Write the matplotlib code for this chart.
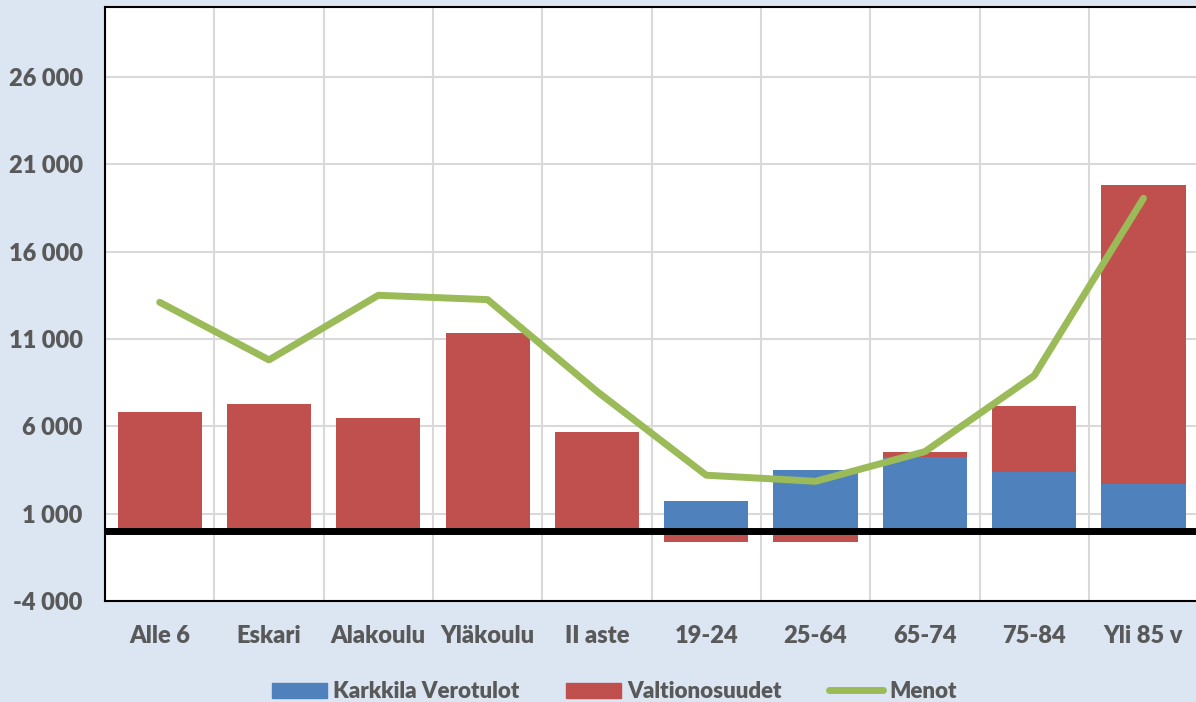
import numpy as np
import matplotlib.pyplot as plt
from matplotlib.patches import Patch
from matplotlib.lines import Line2D
from matplotlib.ticker import FuncFormatter, MultipleLocator

# euroa / asukas, ikäryhmittäin
categories = ['Alle 6', 'Eskari', 'Alakoulu', 'Yläkoulu', 'II aste',
              '19-24', '25-64', '65-74', '75-84', 'Yli 85 v']
verotulot = [0, 0, 0, 0, 0, 1700, 3500, 4250, 3400, 2700]
valtionosuudet = [6800, 7300, 6450, 11350, 5700, -600, -600, 300, 3750, 17100]
menot = [13100, 9800, 13500, 13250, 8000, 3200, 2850, 4550, 8900, 19050]

blue = '#4f81bd'
red = '#c0504d'
green = '#9bbb59'
bg = '#dce6f2'
txt = '#595959'

plt.rcParams['font.family'] = ['Lato', 'DejaVu Sans']
plt.rcParams['font.weight'] = 800

fig = plt.figure(figsize=(11.96, 7.02), dpi=100, facecolor=bg)
ax = fig.add_axes([0.0878, 0.1439, 0.914, 0.8461])
ax.set_facecolor('white')

x = np.arange(len(categories))
vero = np.array(verotulot)
vos = np.array(valtionosuudet)
width = 0.77

ax.bar(x, vero, width, color=blue, zorder=2)
ax.bar(x, vos, width, bottom=np.where(vos >= 0, vero, 0), color=red, zorder=2)
ax.axhline(0, color='black', lw=5, zorder=3)
ax.plot(x, menot, color=green, lw=5, solid_joinstyle='round',
        solid_capstyle='round', zorder=4)

ax.set_xlim(-0.5, 9.5)
ax.set_ylim(-4000, 30000)
ax.set_yticks(np.arange(-4000, 30000, 5000))
ax.yaxis.set_major_formatter(FuncFormatter(lambda v, p: f'{int(v):,}'.replace(',', ' ')))
ax.set_xticks(x)
ax.set_xticklabels(categories)
ax.xaxis.set_minor_locator(MultipleLocator(1, offset=0.5))

ax.grid(axis='y', which='major', color='#d9d9d9', lw=1.5, zorder=0)
ax.grid(axis='x', which='minor', color='#d9d9d9', lw=1.5, zorder=0)
ax.set_axisbelow(True)

ax.tick_params(which='both', length=0)
ax.tick_params(axis='y', pad=16, labelsize=17, labelcolor=txt)
ax.tick_params(axis='x', pad=17, labelsize=17, labelcolor=txt)

for side in ['left', 'top', 'bottom', 'right']:
    ax.spines[side].set_color('black')
    ax.spines[side].set_linewidth(1.5)

handles = [Patch(color=blue), Patch(color=red),
           Line2D([0], [0], color=green, lw=5, solid_capstyle='round')]
labels = ['Karkkila Verotulot', 'Valtionosuudet', 'Menot']
fig.legend(handles, labels, loc='center', bbox_to_anchor=(0.514, 0.015),
           ncol=3, frameon=False, labelcolor=txt,
           prop={'size': 16, 'weight': 800},
           handlelength=2.45, handleheight=0.68, columnspacing=2.1,
           handletextpad=0.3)

fig.savefig('out.png', dpi=100, facecolor=bg)
